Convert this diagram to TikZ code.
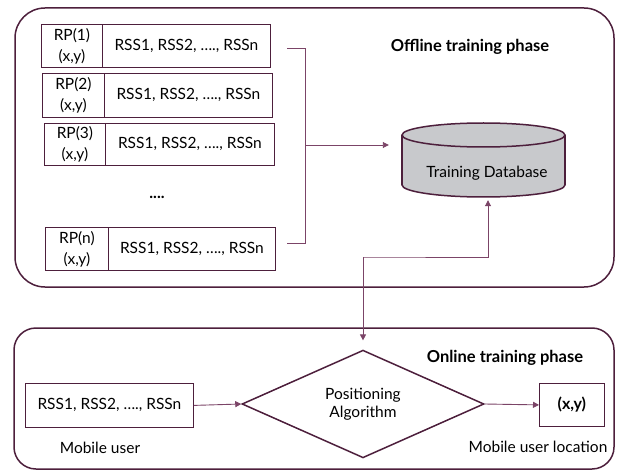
\documentclass[tikz,border=0pt]{standalone}
\usepackage{fontspec}
\setmainfont{Lato}
\usetikzlibrary{shapes.geometric,arrows.meta,calc}
\definecolor{frame}{HTML}{4D1F3C}
\definecolor{conn}{HTML}{7B4467}
\definecolor{dbfill}{HTML}{C8C9CC}
\begin{document}
\begin{tikzpicture}[x=1pt,y=-1pt,
  phase/.style={draw=frame, line width=1.5pt, inner sep=0},
  cell/.style={draw=frame, line width=0.8pt, inner sep=0, anchor=north west, align=center, font=\fontsize{15.5}{21}\selectfont},
  conline/.style={draw=conn, line width=0.9pt},
  arr/.style={conline, -{Triangle[length=6pt,width=6pt]}},
  darr/.style={conline, {Triangle[length=6pt,width=6pt]}-{Triangle[length=6pt,width=6pt]}},
  txt/.style={font=\fontsize{15.5}{18}\selectfont, inner sep=0},
  boldtxt/.style={font=\fontsize{16.5}{18}\selectfont\bfseries, inner sep=0}
]
\useasboundingbox (0,0) rectangle (618,473);

% phase frames
\node[phase, rounded corners=30pt, minimum width=599pt, minimum height=279pt] (offline) at (314.5,147.5) {};
\node[phase, rounded corners=22pt, minimum width=600pt, minimum height=141pt] (online) at (314,398.5) {};

% reference point rows
\node[cell, minimum width=61pt, minimum height=43pt] (rp1) at (41,24) {RP(1)\\(x,y)};
\node[cell, minimum width=168pt, minimum height=43pt] (rss1) at (102,24) {RSS1, RSS2, …., RSSn};
\node[cell, minimum width=62pt, minimum height=44pt] (rp2) at (42,73) {RP(2)\\(x,y)};
\node[cell, minimum width=168pt, minimum height=44pt] (rss2) at (104,73) {RSS1, RSS2, …., RSSn};
\node[cell, minimum width=61pt, minimum height=42pt] (rp3) at (44,123) {RP(3)\\(x,y)};
\node[cell, minimum width=169pt, minimum height=42pt] (rss3) at (105,123) {RSS1, RSS2, …., RSSn};
\node[cell, minimum width=63pt, minimum height=43pt] (rpn) at (45,227) {RP(n)\\(x,y)};
\node[cell, minimum width=167pt, minimum height=43pt] (rssn) at (108,227) {RSS1, RSS2, …., RSSn};
\node[txt, font=\fontsize{16}{18}\selectfont\bfseries] (dots) at (157,197) {....};

\node[boldtxt] (offlbl) at (470,47) {Offline training phase};

% database cylinder
\node[minimum width=163pt, minimum height=74pt, inner sep=0] (db) at (483.5,160) {};
\fill[dbfill, draw=frame, line width=1.5pt] (483.5,185) ellipse [x radius=81.5pt, y radius=12pt];
\fill[dbfill] (402,135) rectangle (565,185);
\draw[frame, line width=1.5pt] (402,135) -- (402,185) (565,135) -- (565,185);
\fill[dbfill, draw=frame, line width=1.5pt] (483.5,135) ellipse [x radius=81.5pt, y radius=12pt];
\node[txt] (dblbl) at (487,173) {Training Database};

% bracket into database
\coordinate (bt) at (287,48);
\coordinate (btc) at (305,48);
\coordinate (bb) at (287,243);
\coordinate (bbc) at (305,243);
\coordinate (bm) at (305,145);
\draw[conline] (bt) -- (btc) -- (bbc) -- (bb);
\draw[arr, shorten >=13pt] (bm) -- (bm -| db.west);

% online phase
\node[boldtxt] (onlbl) at (505,358) {Online training phase};
\node[cell, minimum width=168pt, minimum height=44pt] (rssm) at (25,383) {RSS1, RSS2, …., RSSn};
\node[draw=frame, line width=1.5pt, diamond, minimum width=242pt, minimum height=95pt, inner sep=0, align=center, font=\fontsize{15.5}{18}\selectfont] (alg) at (363,404) {Positioning\\Algorithm};
\node[cell, minimum width=65pt, minimum height=43pt, font=\fontsize{16}{18}\selectfont\bfseries] (loc) at (539,383) {(x,y)};
\node[txt] (mu) at (100,448) {Mobile user};
\node[txt] (mul) at (538,447) {Mobile user location};

\draw[arr] (rssm.east) -- (alg.west);
\draw[arr] (alg.east) -- (loc.west);

% database <-> algorithm
\path (db.south) ++(4.5,0) coordinate (dbin);
\draw[darr, shorten <=3pt, shorten >=9pt] (dbin) |- (364,257) -| (alg.north);
\end{tikzpicture}
\end{document}
